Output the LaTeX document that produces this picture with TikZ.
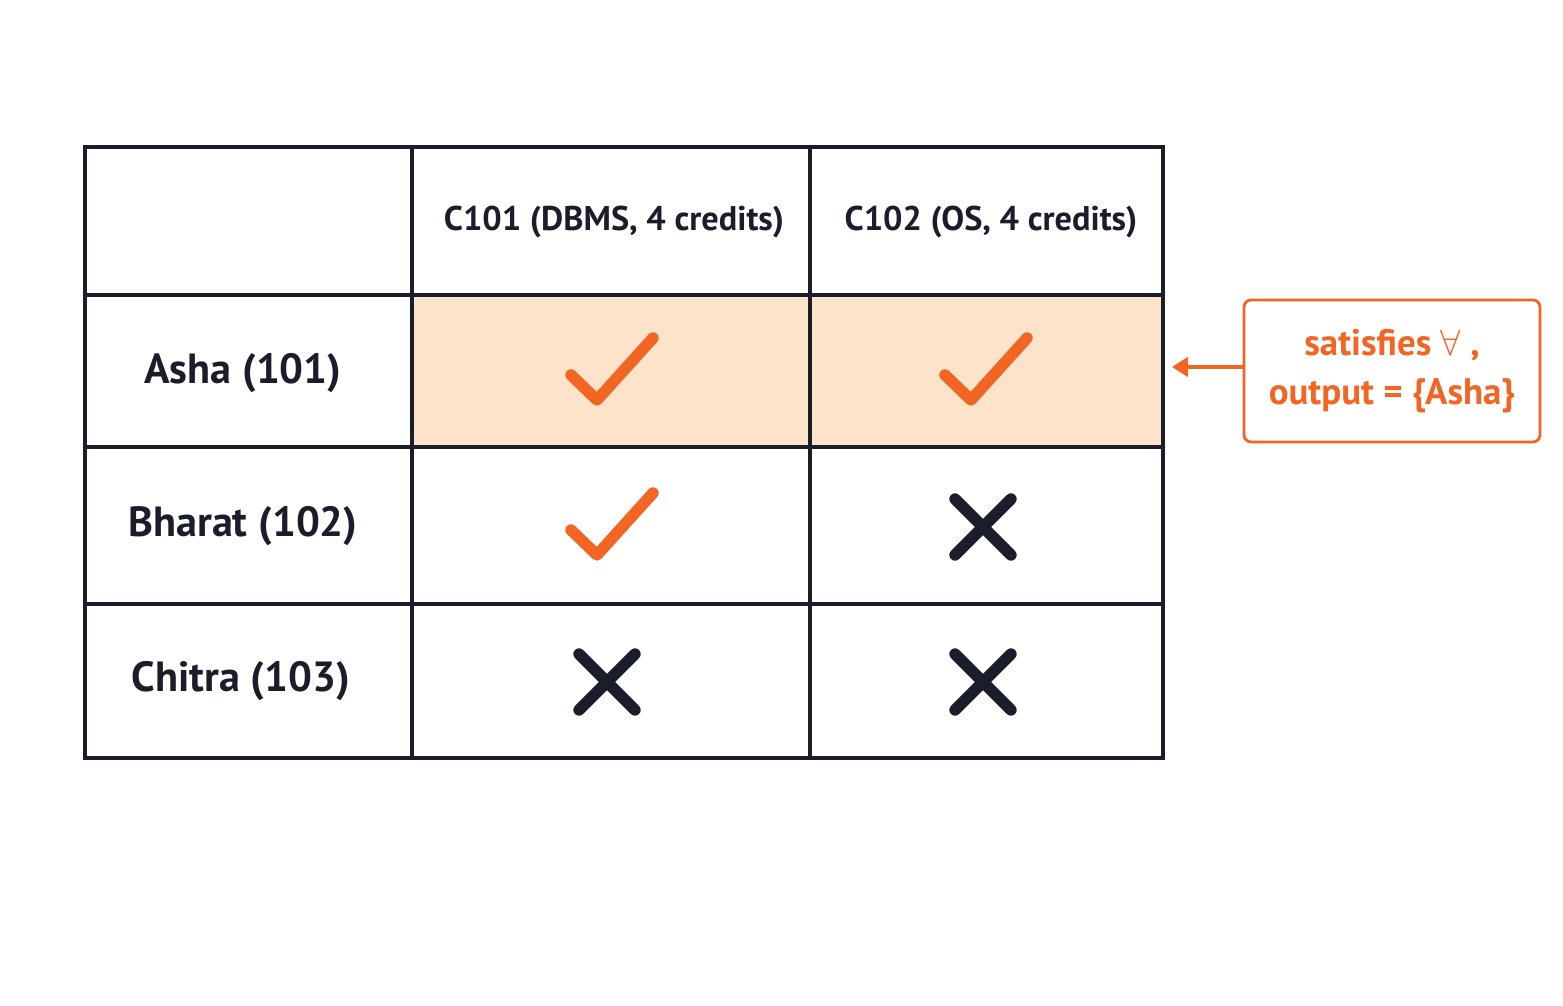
\documentclass[tikz,border=0pt]{standalone}
\usepackage{fontspec}
\setmainfont{PT Sans}
\usepackage{xcolor}
\usetikzlibrary{positioning,arrows.meta,calc}
\definecolor{accent}{HTML}{F26522}
\definecolor{rowfill}{HTML}{FCE3C9}
\definecolor{ink}{HTML}{1B1D2B}
\newcommand{\tick}[1]{\draw[accent,line width=6.5pt,line cap=round,line join=round]
  ($(#1)+(-40,4)$) -- ($(#1)+(-14,29)$) -- ($(#1)+(42,-33)$);}
\newcommand{\cross}[1]{\draw[ink,line width=6.5pt,line cap=round]
  ($(#1)+(-28,-28)$) -- ($(#1)+(28,28)$) ($(#1)+(-28,28)$) -- ($(#1)+(28,-28)$);}
\begin{document}
\begin{tikzpicture}[x=0.02cm,y=-0.02cm,
  grid/.style={draw=ink,line width=1.8pt},
  head/.style={font=\fontsize{19.5}{24}\selectfont\bfseries,text=ink},
  rowlab/.style={font=\fontsize{24}{28}\selectfont\bfseries,text=ink},
  note/.style={draw=accent,line width=1.6pt,rounded corners=4pt,text=accent,
    font=\fontsize{21}{28}\selectfont\bfseries,align=center,minimum width=296*0.02cm,minimum height=142*0.02cm}]
\useasboundingbox (0,0) rectangle (1563,1006);
% highlighted row
\fill[rowfill] (412,295) rectangle (1163,447);
% table lines
\draw[grid] (85,147) rectangle (1163,758);
\foreach \x in {412,810} \draw[grid] (\x,147) -- (\x,758);
\foreach \y in {295,447,604} \draw[grid] (85,\y) -- (1163,\y);
% headers and row labels
\node[head] (c1) at (614,222) {C101 (DBMS, 4 credits)};
\node[head] (c2) at (991,222) {C102 (OS, 4 credits)};
\node[rowlab] (asha) at (243,373) {Asha (101)};
\node[rowlab] (bharat) at (243,526) {Bharat (102)};
\node[rowlab] (chitra) at (241,681) {Chitra (103)};
% marks
\coordinate (a1) at (611,371); \coordinate (a2) at (985,371);
\coordinate (b1) at (611,526); \coordinate (b2) at (983,527);
\coordinate (d1) at (607,682); \coordinate (d2) at (983,682);
\tick{a1} \tick{a2} \tick{b1}
\cross{b2} \cross{d1} \cross{d2}
% annotation
\node[note] (sat) at (1392,371) {satisfies $\forall$ ,\\output = \{Asha\}};
\coordinate (tip) at (1172,367);
\draw[accent,line width=1.8pt,-{Triangle[length=9pt,width=11pt]}] (sat.west |- tip) -- (tip);
\end{tikzpicture}
\end{document}
